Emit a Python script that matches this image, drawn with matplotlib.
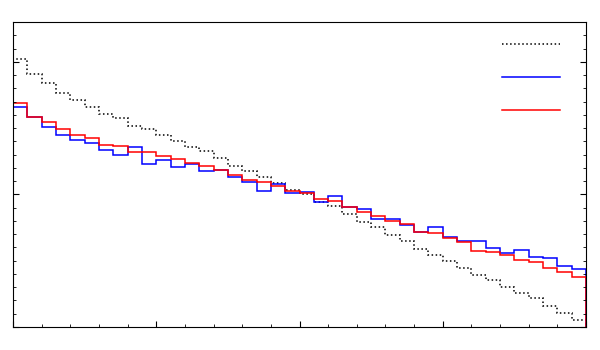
import matplotlib.pyplot as plt
import numpy as np
from matplotlib.ticker import MultipleLocator, NullFormatter
from matplotlib.lines import Line2D

# 40 bins from 0 to 4
bin_edges = np.linspace(0, 4, 41)

reference = [2.020, 1.905, 1.838, 1.762, 1.712, 1.657, 1.603, 1.577, 1.519, 1.496,
             1.451, 1.404, 1.359, 1.325, 1.271, 1.218, 1.178, 1.131, 1.086, 1.033,
             1.003, 0.940, 0.915, 0.855, 0.792, 0.752, 0.695, 0.647, 0.586, 0.544,
             0.496, 0.444, 0.389, 0.353, 0.298, 0.253, 0.216, 0.158, 0.103, 0.050]

blue_hist = [1.662, 1.582, 1.507, 1.451, 1.411, 1.389, 1.335, 1.298, 1.356, 1.233,
             1.259, 1.208, 1.231, 1.178, 1.186, 1.133, 1.095, 1.023, 1.078, 1.013,
             1.020, 0.945, 0.985, 0.902, 0.892, 0.815, 0.814, 0.767, 0.720, 0.755,
             0.682, 0.650, 0.647, 0.594, 0.556, 0.579, 0.526, 0.519, 0.459, 0.434]

red_hist = [1.692, 1.584, 1.547, 1.492, 1.449, 1.424, 1.372, 1.366, 1.321, 1.323,
            1.289, 1.266, 1.236, 1.211, 1.183, 1.148, 1.111, 1.090, 1.063, 1.024,
            1.011, 0.968, 0.950, 0.908, 0.865, 0.838, 0.797, 0.777, 0.720, 0.707,
            0.669, 0.642, 0.577, 0.569, 0.541, 0.509, 0.489, 0.447, 0.414, 0.376]

fig = plt.figure(figsize=(6, 3.5), dpi=100)
ax = fig.add_axes([0.0217, 0.0657, 0.955, 0.8713])

ax.stairs(reference, bin_edges, color='black', linestyle=':', linewidth=1.1)
ax.stairs(blue_hist, bin_edges, color='blue', linewidth=1.1)
ax.stairs(red_hist, bin_edges, color='red', linewidth=1.1)

ax.set_xlim(0, 4)
ax.set_ylim(0, 2.30)

ax.xaxis.set_major_locator(MultipleLocator(1))
ax.xaxis.set_minor_locator(MultipleLocator(0.2))
ax.yaxis.set_major_locator(MultipleLocator(1))
ax.yaxis.set_minor_locator(MultipleLocator(0.1))
ax.xaxis.set_major_formatter(NullFormatter())
ax.yaxis.set_major_formatter(NullFormatter())
ax.tick_params(which='both', direction='in', top=False, right=True)
ax.tick_params(which='major', length=4)
ax.tick_params(which='minor', length=2)

# legend without text, just the three line samples
handles = [Line2D([], [], color='black', linestyle=':', linewidth=1.1),
           Line2D([], [], color='blue', linewidth=1.1),
           Line2D([], [], color='red', linewidth=1.1)]
ax.legend(handles, ['', '', ''], frameon=False, loc='upper right',
          handlelength=4.2, labelspacing=1.38, handletextpad=0,
          bbox_to_anchor=(0.977, 0.99))

fig.savefig('out.png', dpi=100)
